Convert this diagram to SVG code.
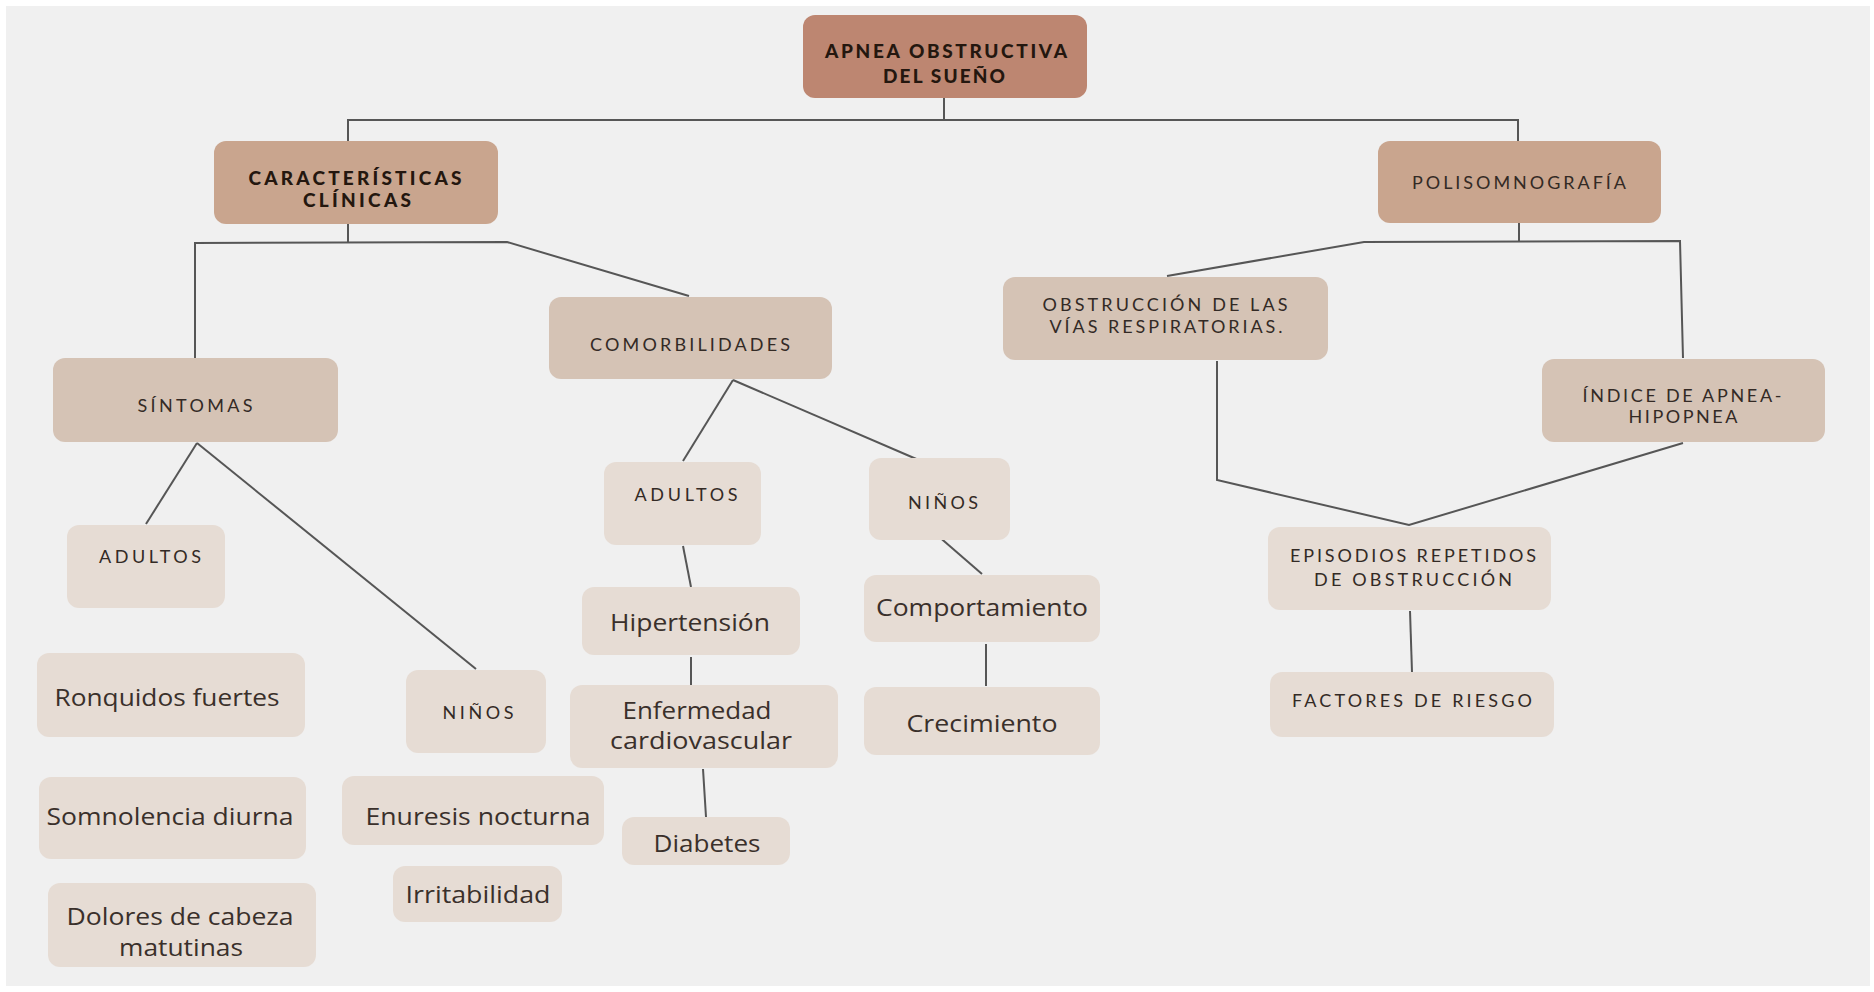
<svg xmlns="http://www.w3.org/2000/svg" width="1874" height="992" viewBox="0 0 1874 992">
<style>
.n0{fill:#bd8671}
.n1{fill:#c9a58e}
.n2{fill:#d5c3b5}
.n3{fill:#e6dcd4}
.tb{font-family:Lato,"Liberation Sans",sans-serif;font-weight:900;font-size:19px;fill:#24170f;text-anchor:middle}
.tu{font-family:Lato,"Liberation Sans",sans-serif;font-weight:400;font-size:18px;fill:#332a25;text-anchor:middle}
.tm{font-family:"Open Sans","Liberation Sans",sans-serif;font-weight:400;font-size:23px;fill:#3a302b;text-anchor:middle}
.c{fill:none;stroke:#565656;stroke-width:2;stroke-linejoin:miter}
</style>
<rect x="0" y="0" width="1874" height="992" fill="#ffffff"/>
<rect x="6" y="6" width="1864" height="980" fill="#f0f0f0"/>
<g id="connectors">
<polyline class="c" points="348,141 348,120 1518,120 1518,141"/>
<line class="c" x1="944" y1="98" x2="944" y2="120"/>
<line class="c" x1="348" y1="224" x2="348" y2="243"/>
<polyline class="c" points="195,358 195,243 507,242 689,296"/>
<line class="c" x1="197" y1="443" x2="146" y2="524"/>
<line class="c" x1="197" y1="443" x2="476" y2="669"/>
<line class="c" x1="733" y1="380" x2="683" y2="461"/>
<line class="c" x1="733" y1="380" x2="921" y2="461"/>
<line class="c" x1="683" y1="546" x2="691" y2="587"/>
<line class="c" x1="691" y1="657" x2="691" y2="688"/>
<line class="c" x1="703" y1="769" x2="706" y2="817"/>
<line class="c" x1="937" y1="535" x2="982" y2="574"/>
<line class="c" x1="986" y1="644" x2="986" y2="686"/>
<line class="c" x1="1519" y1="223" x2="1519" y2="242"/>
<polyline class="c" points="1167,276 1364,242 1680,241 1683,358"/>
<polyline class="c" points="1217,361 1217,480 1409,525 1683,443"/>
<line class="c" x1="1410" y1="611" x2="1412" y2="672"/>
</g>
<g id="apnea">
<rect class="n0" x="803" y="15" width="284" height="83" rx="12"/>
<text class="tb" x="946" y="58" textLength="242" lengthAdjust="spacing">APNEA OBSTRUCTIVA</text>
<text class="tb" x="944" y="83" textLength="122" lengthAdjust="spacing">DEL SUEÑO</text>
</g>
<g id="caracteristicas">
<rect class="n1" x="214" y="141" width="284" height="83" rx="12"/>
<text class="tb" x="355" y="185" textLength="213" lengthAdjust="spacing">CARACTERÍSTICAS</text>
<text class="tb" x="357" y="207" textLength="108" lengthAdjust="spacing">CLÍNICAS</text>
</g>
<g id="polisomnografia">
<rect class="n1" x="1378" y="141" width="283" height="82" rx="12"/>
<text class="tu" x="1519" y="189" textLength="214" lengthAdjust="spacing">POLISOMNOGRAFÍA</text>
</g>
<g id="comorbilidades">
<rect class="n2" x="549" y="297" width="283" height="82" rx="12"/>
<text class="tu" x="690" y="351" textLength="200" lengthAdjust="spacing">COMORBILIDADES</text>
</g>
<g id="sintomas">
<rect class="n2" x="53" y="358" width="285" height="84" rx="12"/>
<text class="tu" x="195" y="412" textLength="115" lengthAdjust="spacing">SÍNTOMAS</text>
</g>
<g id="obstruccion">
<rect class="n2" x="1003" y="277" width="325" height="83" rx="12"/>
<text class="tu" x="1165" y="311" textLength="245" lengthAdjust="spacing">OBSTRUCCIÓN DE LAS</text>
<text class="tu" x="1166" y="333" textLength="233" lengthAdjust="spacing">VÍAS RESPIRATORIAS.</text>
</g>
<g id="indice">
<rect class="n2" x="1542" y="359" width="283" height="83" rx="12"/>
<text class="tu" x="1682" y="402" textLength="199" lengthAdjust="spacing">ÍNDICE DE APNEA-</text>
<text class="tu" x="1683" y="423" textLength="109" lengthAdjust="spacing">HIPOPNEA</text>
</g>
<g id="adultos-sintomas">
<rect class="n3" x="67" y="525" width="158" height="83" rx="12"/>
<text class="tu" x="150" y="563" textLength="102" lengthAdjust="spacing">ADULTOS</text>
</g>
<g id="ninos-sintomas">
<rect class="n3" x="406" y="670" width="140" height="83" rx="12"/>
<text class="tu" x="478" y="719" textLength="71" lengthAdjust="spacing">NIÑOS</text>
</g>
<g id="adultos-comorbilidades">
<rect class="n3" x="604" y="462" width="157" height="83" rx="12"/>
<text class="tu" x="686" y="501" textLength="103" lengthAdjust="spacing">ADULTOS</text>
</g>
<g id="ninos-comorbilidades">
<rect class="n3" x="869" y="458" width="141" height="82" rx="12"/>
<text class="tu" x="943" y="509" textLength="70" lengthAdjust="spacing">NIÑOS</text>
</g>
<g id="ronquidos">
<rect class="n3" x="37" y="653" width="268" height="84" rx="12"/>
<text class="tm" x="167" y="706" textLength="225" lengthAdjust="spacingAndGlyphs">Ronquidos fuertes</text>
</g>
<g id="somnolencia">
<rect class="n3" x="39" y="777" width="267" height="82" rx="12"/>
<text class="tm" x="170" y="825" textLength="247" lengthAdjust="spacingAndGlyphs">Somnolencia diurna</text>
</g>
<g id="dolores">
<rect class="n3" x="48" y="883" width="268" height="84" rx="12"/>
<text class="tm" x="180" y="925" textLength="227" lengthAdjust="spacingAndGlyphs">Dolores de cabeza</text>
<text class="tm" x="181" y="956" textLength="124" lengthAdjust="spacingAndGlyphs">matutinas</text>
</g>
<g id="enuresis">
<rect class="n3" x="342" y="776" width="262" height="69" rx="12"/>
<text class="tm" x="478" y="825" textLength="225" lengthAdjust="spacingAndGlyphs">Enuresis nocturna</text>
</g>
<g id="irritabilidad">
<rect class="n3" x="393" y="866" width="169" height="56" rx="12"/>
<text class="tm" x="478" y="903" textLength="145" lengthAdjust="spacingAndGlyphs">Irritabilidad</text>
</g>
<g id="hipertension">
<rect class="n3" x="582" y="587" width="218" height="68" rx="12"/>
<text class="tm" x="690" y="631" textLength="160" lengthAdjust="spacingAndGlyphs">Hipertensión</text>
</g>
<g id="enfermedad">
<rect class="n3" x="570" y="685" width="268" height="83" rx="12"/>
<text class="tm" x="697" y="719" textLength="149" lengthAdjust="spacingAndGlyphs">Enfermedad</text>
<text class="tm" x="701" y="749" textLength="182" lengthAdjust="spacingAndGlyphs">cardiovascular</text>
</g>
<g id="diabetes">
<rect class="n3" x="622" y="817" width="168" height="48" rx="12"/>
<text class="tm" x="707" y="852" textLength="107" lengthAdjust="spacingAndGlyphs">Diabetes</text>
</g>
<g id="comportamiento">
<rect class="n3" x="864" y="575" width="236" height="67" rx="12"/>
<text class="tm" x="982" y="616" textLength="212" lengthAdjust="spacingAndGlyphs">Comportamiento</text>
</g>
<g id="crecimiento">
<rect class="n3" x="864" y="687" width="236" height="68" rx="12"/>
<text class="tm" x="982" y="732" textLength="151" lengthAdjust="spacingAndGlyphs">Crecimiento</text>
</g>
<g id="episodios">
<rect class="n3" x="1268" y="527" width="283" height="83" rx="12"/>
<text class="tu" x="1413" y="562" textLength="246" lengthAdjust="spacing">EPISODIOS REPETIDOS</text>
<text class="tu" x="1413" y="586" textLength="198" lengthAdjust="spacing">DE OBSTRUCCIÓN</text>
</g>
<g id="factores">
<rect class="n3" x="1270" y="672" width="284" height="65" rx="12"/>
<text class="tu" x="1412" y="707" textLength="240" lengthAdjust="spacing">FACTORES DE RIESGO</text>
</g>
</svg>
